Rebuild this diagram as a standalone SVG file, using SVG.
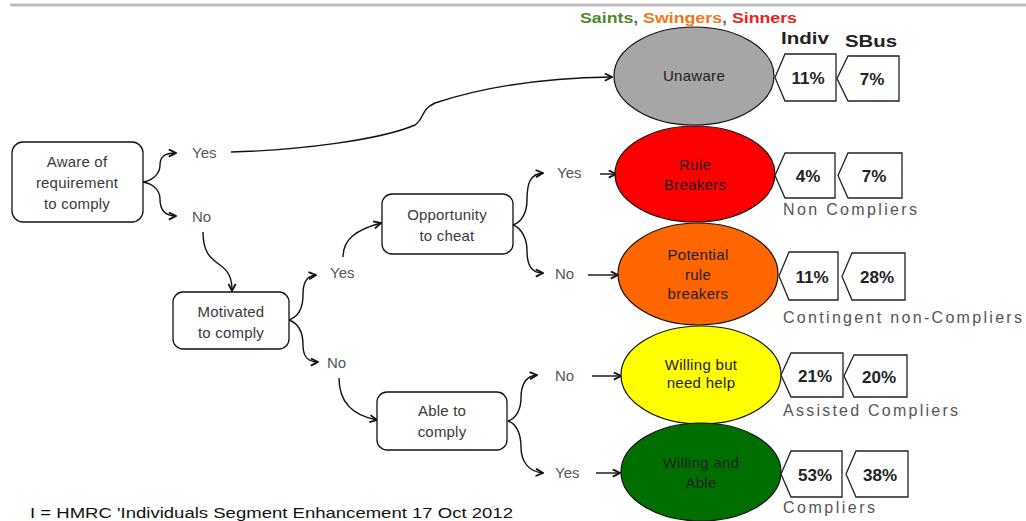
<svg xmlns="http://www.w3.org/2000/svg" width="1026" height="521" viewBox="0 0 1026 521">
<style>
.dec{fill:#fff;stroke:#111;stroke-width:1.3}
.dt{font-family:"Liberation Sans",Arial,sans-serif;font-size:15px;fill:#3a3a3a;text-anchor:middle;letter-spacing:0.2px}
.lbl{font-family:"Liberation Sans",Arial,sans-serif;font-size:15px;fill:#555;}
.ell{stroke:#111;stroke-width:1.2}
.et{font-family:"Liberation Sans",Arial,sans-serif;font-size:15px;fill:#222;text-anchor:middle;letter-spacing:0.3px}
.box{fill:#fff;stroke:#222;stroke-width:1.3}
.pt{font-family:"Liberation Sans",Arial,sans-serif;font-size:17px;font-weight:bold;fill:#222;text-anchor:middle}
.cat{font-family:"Liberation Sans",Arial,sans-serif;font-size:16px;fill:#555}
.hd{font-family:"Liberation Sans",Arial,sans-serif;font-size:17px;font-weight:bold;fill:#222}
.con{fill:none;stroke:#111;stroke-width:1.4}
</style>
<defs>
<marker id="chev" viewBox="0 0 10 10" refX="9" refY="5" markerWidth="9" markerHeight="9" markerUnits="userSpaceOnUse" orient="auto">
<path d="M1,1 L9,5 L1,9" fill="none" stroke="#111" stroke-width="2"/>
</marker>
</defs>
<rect x="0" y="0" width="1026" height="521" fill="#fff"/>
<line x1="10" y1="5" x2="1026" y2="5" stroke="#bdbdbd" stroke-width="3"/>
<text x="580" y="23" font-family="Liberation Sans,Arial,sans-serif" font-size="14" font-weight="bold" textLength="217" lengthAdjust="spacingAndGlyphs"><tspan fill="#4b8b2b">Saints</tspan><tspan fill="#666">, </tspan><tspan fill="#f07818">Swingers</tspan><tspan fill="#666">, </tspan><tspan fill="#ee2020">Sinners</tspan></text>
<text class="hd" x="781" y="44" textLength="48" lengthAdjust="spacingAndGlyphs">Indiv</text>
<text class="hd" x="845" y="47" textLength="52" lengthAdjust="spacingAndGlyphs">SBus</text>

<g id="connectors">
<path class="con" d="M231,152 C300,150 380,140 415,125 C425,118 420,110 435,103 C480,88 540,78 612,77" marker-end="url(#chev)"/>
<path class="con" d="M143,182 C155,180 160,172 160,165 C160,157 164,153 176,153" marker-end="url(#chev)"/>
<path class="con" d="M143,182 C155,184 160,192 160,199 C160,209 164,216 176,216" marker-end="url(#chev)"/>
<path class="con" d="M203,232 C203,252 210,258 220,265 C230,272 232,280 232,291" marker-end="url(#chev)"/>
<path class="con" d="M289,320 C300,316 303,305 303,295 C303,283 306,276 316,275" marker-end="url(#chev)"/>
<path class="con" d="M289,320 C300,324 303,335 303,345 C303,356 307,362 318,362" marker-end="url(#chev)"/>
<path class="con" d="M343,257 C343,240 355,230 381,223" marker-end="url(#chev)"/>
<path class="con" d="M339,378 C339,400 350,415 377,420" marker-end="url(#chev)"/>
<path class="con" d="M513,225 C522,222 527,212 527,200 C527,183 530,174 543,173" marker-end="url(#chev)"/>
<path class="con" d="M513,225 C522,228 527,240 527,250 C527,265 531,273 543,273" marker-end="url(#chev)"/>
<path class="con" d="M508,421 C517,418 521,408 521,398 C521,384 526,376 537,375" marker-end="url(#chev)"/>
<path class="con" d="M508,421 C517,424 521,435 521,447 C521,463 530,472 543,473" marker-end="url(#chev)"/>
<path class="con" d="M600,174 L616,174" marker-end="url(#chev)"/>
<path class="con" d="M588,275 L618,275" marker-end="url(#chev)"/>
<path class="con" d="M592,376 L621,376" marker-end="url(#chev)"/>
<path class="con" d="M596,473 L620,473" marker-end="url(#chev)"/>
</g>

<g id="labels">
<text class="lbl" x="192" y="158">Yes</text>
<text class="lbl" x="192" y="222">No</text>
<text class="lbl" x="330" y="278">Yes</text>
<text class="lbl" x="327" y="368">No</text>
<text class="lbl" x="557" y="178">Yes</text>
<text class="lbl" x="555" y="279">No</text>
<text class="lbl" x="555" y="381">No</text>
<text class="lbl" x="555" y="478">Yes</text>
</g>

<g id="aware">
<rect class="dec" x="12" y="142" width="131" height="80" rx="11"/>
<text class="dt" x="77" y="167">Aware of</text>
<text class="dt" x="77" y="188">requirement</text>
<text class="dt" x="77" y="209">to comply</text>
</g>
<g id="motivated">
<rect class="dec" x="173" y="292" width="116" height="57" rx="10"/>
<text class="dt" x="231" y="317">Motivated</text>
<text class="dt" x="231" y="338">to comply</text>
</g>
<g id="opportunity">
<rect class="dec" x="382" y="194" width="131" height="60" rx="10"/>
<text class="dt" x="447" y="220">Opportunity</text>
<text class="dt" x="447" y="241">to cheat</text>
</g>
<g id="able">
<rect class="dec" x="377" y="392" width="130" height="58" rx="10"/>
<text class="dt" x="442" y="416">Able to</text>
<text class="dt" x="442" y="437">comply</text>
</g>

<g id="unaware">
<ellipse class="ell" cx="694" cy="76" rx="80" ry="49" fill="#a6a6a6"/>
<text class="et" x="694" y="81" fill="#333">Unaware</text>
</g>
<g id="rule-breakers">
<ellipse class="ell" cx="695" cy="174" rx="80" ry="48" fill="#ff0000"/>
<text class="et" x="695" y="170">Rule</text>
<text class="et" x="695" y="190">Breakers</text>
</g>
<g id="potential">
<ellipse class="ell" cx="698" cy="274" rx="80" ry="51" fill="#ff6600"/>
<text class="et" x="698" y="260">Potential</text>
<text class="et" x="698" y="280">rule</text>
<text class="et" x="698" y="299">breakers</text>
</g>
<g id="willing-help">
<ellipse class="ell" cx="701" cy="375" rx="80" ry="49" fill="#ffff00"/>
<text class="et" x="701" y="370">Willing but</text>
<text class="et" x="701" y="388">need help</text>
</g>
<g id="willing-able">
<ellipse class="ell" cx="701" cy="472" rx="80" ry="49" fill="#006f00"/>
<text class="et" x="701" y="468" fill="#111">Willing and</text>
<text class="et" x="701" y="488" fill="#111">Able</text>
</g>

<g id="pct-unaware">
<polygon class="box" points="785,54 836,54 836,101 785,101 775,77.5"/>
<text class="pt" x="808" y="84">11%</text>
<polygon class="box" points="848,56 899,56 899,101 848,101 837,78.5"/>
<text class="pt" x="872" y="85">7%</text>
</g>
<g id="pct-rule">
<polygon class="box" points="785,153 835,153 835,198 785,198 775,175.5"/>
<text class="pt" x="808" y="182">4%</text>
<polygon class="box" points="848,153 902,153 902,198 848,198 838,175.5"/>
<text class="pt" x="874" y="182">7%</text>
<text class="cat" x="783" y="215" textLength="134" lengthAdjust="spacing">Non Compliers</text>
</g>
<g id="pct-potential">
<polygon class="box" points="789,252 838,252 838,300 789,300 779,276"/>
<text class="pt" x="812" y="283">11%</text>
<polygon class="box" points="852,253 905,253 905,300 852,300 842,276.5"/>
<text class="pt" x="877" y="283">28%</text>
<text class="cat" x="783" y="323" textLength="239" lengthAdjust="spacing">Contingent non-Compliers</text>
</g>
<g id="pct-help">
<polygon class="box" points="791,353 843,353 843,397 791,397 781,375"/>
<text class="pt" x="815" y="382">21%</text>
<polygon class="box" points="854,355 907,355 907,397 854,397 844,376"/>
<text class="pt" x="879" y="383">20%</text>
<text class="cat" x="783" y="416" textLength="175" lengthAdjust="spacing">Assisted Compliers</text>
</g>
<g id="pct-able">
<polygon class="box" points="791,451 842,451 842,497 791,497 781,474"/>
<text class="pt" x="815" y="481">53%</text>
<polygon class="box" points="856,451 908,451 908,497 856,497 846,474"/>
<text class="pt" x="880" y="481">38%</text>
<text class="cat" x="783" y="513" textLength="92" lengthAdjust="spacing">Compliers</text>
</g>

<text x="30" y="518" font-family="Liberation Sans,Arial,sans-serif" font-size="14" fill="#111" textLength="483" lengthAdjust="spacingAndGlyphs">I = HMRC 'Individuals Segment Enhancement 17 Oct 2012</text>
</svg>
